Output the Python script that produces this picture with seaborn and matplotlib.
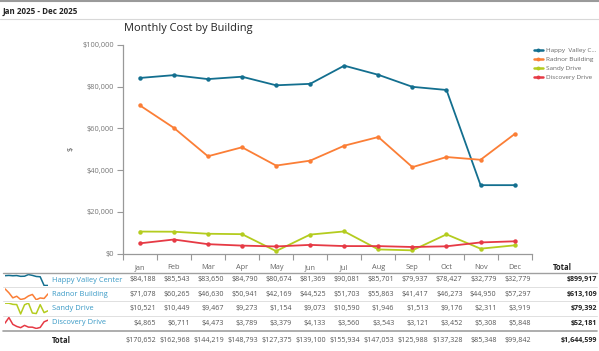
import pandas as pd
import matplotlib.pyplot as plt
import matplotlib.transforms as mtransforms
from matplotlib.lines import Line2D
from matplotlib.ticker import FuncFormatter
import seaborn as sns

sns.set_style("white")
plt.rcParams['font.family'] = ['Open Sans', 'DejaVu Sans']

# Datos
months = ["Jan", "Feb", "Mar", "Apr", "May", "Jun", "Jul", "Aug", "Sep", "Oct", "Nov", "Dec"]
buildings = ["Happy Valley Center", "Radnor Building", "Sandy Drive", "Discovery Drive"]
legend_labels = ["Happy  Valley C...", "Radnor Building", "Sandy Drive", "Discovery Drive"]
happy_valley = [84188, 85543, 83650, 84790, 80674, 81369, 90081, 85701, 79937, 78427, 32779, 32779]
radnor = [71078, 60265, 46630, 50941, 42169, 44525, 51703, 55863, 41417, 46273, 44950, 57297]
sandy = [10521, 10449, 9467, 9273, 1154, 9073, 10590, 1946, 1513, 9176, 2311, 3919]
discovery = [4865, 6711, 4473, 3789, 3379, 4133, 3560, 3543, 3121, 3452, 5308, 5848]
row_totals = [899917, 613109, 79392, 52181]
month_totals = [170652, 162968, 144219, 148793, 127375, 139100, 155934, 147053, 125988, 137328, 85348, 99842]
grand_total = 1644599
colors = ["#136f8f", "#fb7e36", "#b4cc1f", "#e63a45"]

series = [happy_valley, radnor, sandy, discovery]
df = pd.DataFrame({
    "month": months * 4,
    "x": list(range(12)) * 4,
    "building": [b for b in buildings for _ in months],
    "cost": [v for s in series for v in s],
})

W, H = 599, 351
fig = plt.figure(figsize=(W / 100, H / 100), dpi=100)


def fy(py):
    return 1 - py / H


# Grafico principal
ax = fig.add_axes([122.7 / W, fy(253.5), (531.7 - 122.7) / W, (253.5 - 45) / H])
sns.lineplot(data=df, x="x", y="cost", hue="building", palette=colors, marker="o",
             markersize=3.2, markeredgewidth=0, linewidth=1.3, ax=ax, legend=False)
ax.set_xlim(-0.5, 11.5)
ax.set_ylim(0, 100000)
ax.set_xticks([i - 0.5 for i in range(13)])
ax.set_xticklabels([])
ax.set_yticks(range(0, 100001, 20000))
ax.yaxis.set_major_formatter(FuncFormatter(lambda v, p: f"${v:,.0f}"))
ax.tick_params(axis="y", labelsize=5.3, labelcolor="#777777", length=4, width=0.8, color="#999999", pad=2, left=True)
ax.tick_params(axis="x", length=4, width=0.8, color="#999999", bottom=True)
ax.set_xlabel("")
ax.set_ylabel("$", fontsize=5.5, color="#555555", labelpad=6)
for s in ["top", "right"]:
    ax.spines[s].set_visible(False)
for s in ["left", "bottom"]:
    ax.spines[s].set_color("#999999")
    ax.spines[s].set_linewidth(0.9)

handles = [Line2D([0], [0], color=c, lw=1.8, marker="o", markersize=1.8) for c in colors]
fig.legend(handles, legend_labels, loc="upper left", bbox_to_anchor=(534 / W, fy(47.5)),
           frameon=False, fontsize=4.6, labelcolor="#666666", handlelength=1.4,
           handletextpad=0.45, labelspacing=0.55, borderaxespad=0, borderpad=0)

# Encabezado y titulo
fig.add_artist(Line2D([0, 1], [fy(1.2), fy(1.2)], color="#9a9a9a", lw=1.5))
fig.add_artist(Line2D([0, 1], [fy(19), fy(19)], color="#d8d8d8", lw=0.8))
fig.text(3 / W, fy(11), "Jan 2025 - Dec 2025", fontsize=5.8, fontweight="bold", color="#222222", va="center")
fig.text(124 / W, fy(29), "Monthly Cost by Building", fontsize=7.9, fontweight="medium", color="#222222", va="center")

# Tabla
trans = mtransforms.blended_transform_factory(ax.transData, fig.transFigure)
row_y = [280, 294.3, 308.5, 323]
for i, m in enumerate(months):
    fig.text(i, fy(267.7), m, transform=trans, fontsize=5.3, color="#666666", ha="center", va="center")
fig.text(562 / W, fy(267.7), "Total", fontsize=5.5, fontweight="bold", color="#222222", ha="center", va="center")

fig.add_artist(Line2D([3 / W, 597 / W], [fy(273.3), fy(273.3)], color="#a0a0a0", lw=1.0))
for yy in [287, 301.3, 315.6]:
    fig.add_artist(Line2D([3 / W, 597 / W], [fy(yy), fy(yy)], color="#e0e0e0", lw=0.7))
fig.add_artist(Line2D([3 / W, 597 / W], [fy(330.8), fy(330.8)], color="#a0a0a0", lw=1.2))

for r, (name, vals, c) in enumerate(zip(buildings, series, colors)):
    y = row_y[r]
    fig.text(52 / W, fy(y), name, fontsize=5.4, color="#3a9ac6", va="center")
    for i, v in enumerate(vals):
        fig.text(i + 0.47, fy(y), f"${v:,}", transform=trans, fontsize=5.1, color="#555555", ha="right", va="center")
    fig.text(597 / W, fy(y), f"${row_totals[r]:,}", fontsize=5.1, fontweight="bold", color="#222222", ha="right", va="center")
    # Minigrafico
    sax = fig.add_axes([5 / W, fy(y + 6), 43 / W, 12 / H])
    sns.lineplot(x=list(range(12)), y=vals, color=c, linewidth=1.1, ax=sax)
    sax.set_xlim(0, 11)
    sax.axis("off")

fig.text(52 / W, fy(340.3), "Total", fontsize=5.5, fontweight="bold", color="#222222", va="center")
for i, v in enumerate(month_totals):
    fig.text(i + 0.47, fy(340.3), f"${v:,}", transform=trans, fontsize=5.1, color="#555555", ha="right", va="center")
fig.text(597 / W, fy(340.3), f"${grand_total:,}", fontsize=5.1, fontweight="bold", color="#222222", ha="right", va="center")

plt.savefig("out.png", dpi=100)
